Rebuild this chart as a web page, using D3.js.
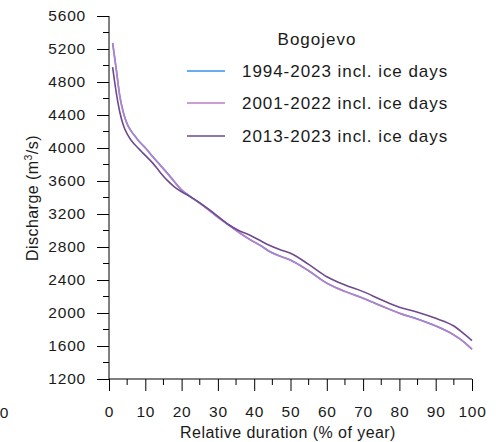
<!DOCTYPE html>
<html><head><meta charset="utf-8">
<script src="https://cdn.jsdelivr.net/npm/d3@7"></script>
<style>body{margin:0;background:#fff}svg{display:block}text{font-family:"Liberation Sans",Arial,sans-serif;fill:#1a1a1a}</style>
</head><body><svg id="c" width="498" height="442"></svg>
<script>
const durations = [1,2,3,4,5,6,7,8,9,10,12,14,16,18,20,22,25,28,30,33,36,39,42,44,47,50,55,60,65,70,75,80,85,90,95,98,100];
const s1994 = [5275,4955,4625,4424,4294,4214,4154,4098,4048,4003,3900,3800,3700,3594,3494,3425,3335,3232,3162,3066,2972,2887,2812,2752,2692,2642,2512,2362,2262,2180,2087,1998,1927,1844,1735,1642,1561];
const s2001 = [5270,4950,4620,4420,4290,4210,4150,4095,4045,4000,3895,3795,3695,3590,3490,3420,3330,3230,3160,3065,2970,2885,2810,2750,2690,2640,2510,2360,2260,2178,2085,1996,1925,1842,1733,1640,1559];
const s2013 = [4980,4670,4430,4270,4170,4100,4045,4000,3955,3910,3820,3710,3610,3530,3470,3420,3335,3240,3170,3070,2995,2940,2870,2825,2770,2724,2590,2440,2340,2259,2160,2069,2010,1936,1842,1740,1664];
const seriesNames = ["1994-2023 incl. ice days","2001-2022 incl. ice days","2013-2023 incl. ice days"];
const seriesColors = ["#3a8ff0","#bb7fc6","#6e4a8e"];
const yTicks = [1200,1600,2000,2400,2800,3200,3600,4000,4400,4800,5200,5600];
const xTicks = [0,10,20,30,40,50,60,70,80,90,100];

const svg = d3.select("#c");
const x = d3.scaleLinear().domain([0,100]).range([109,472]);
const y = d3.scaleLinear().domain([1200,5600]).range([379,16]);

// axes
const yAxis = d3.axisLeft(y).tickValues(yTicks).tickSize(12).tickPadding(11).tickFormat(d3.format("d"));
const gy = svg.append("g").attr("transform","translate(109,0)").call(yAxis);
gy.selectAll("path.domain").attr("d","M0,379V16").attr("stroke","#000");
gy.selectAll(".tick line").attr("stroke","#000");
gy.selectAll("text").style("font-size","15.5px").style("letter-spacing","0.8px").attr("fill","#1a1a1a");
const yMinor = d3.range(1400,5600,400);
gy.selectAll(".minor").data(yMinor).enter().append("line")
  .attr("x1",-6).attr("x2",0).attr("y1",d=>y(d)).attr("y2",d=>y(d)).attr("stroke","#000");

const xAxis = d3.axisBottom(x).tickValues(xTicks).tickSize(12).tickPadding(15).tickFormat(d3.format("d"));
const gx = svg.append("g").attr("transform","translate(0,379)").call(xAxis);
gx.selectAll("path.domain").attr("d","M109,0H472").attr("stroke","#000");
gx.selectAll(".tick line").attr("stroke","#000");
gx.selectAll("text").style("font-size","15.5px").style("letter-spacing","0.8px").attr("fill","#1a1a1a");
const xMinor = d3.range(5,100,10);
gx.selectAll(".minor").data(xMinor).enter().append("line")
  .attr("x1",d=>x(d)).attr("x2",d=>x(d)).attr("y1",0).attr("y2",6).attr("stroke","#000");

// stray clipped label at left edge
svg.append("text").attr("x",4).attr("y",418).attr("text-anchor","middle").style("font-size","15.5px").text("0");

// axis titles
svg.append("text").attr("transform","translate(38,198) rotate(-90)").attr("text-anchor","middle")
  .style("font-size","16px").style("letter-spacing","0.45px")
  .html('Discharge (m<tspan dy="-6" style="font-size:10.5px">3</tspan><tspan dy="6">/s)</tspan>');
svg.append("text").attr("x",288).attr("y",438).attr("text-anchor","middle")
  .style("font-size","16px").style("letter-spacing","0.45px").text("Relative duration (% of year)");

// lines
const allSeries = [s1994,s2001,s2013];
const line = d3.line().x((d,i)=>x(durations[i])).y(d=>y(d)).curve(d3.curveMonotoneX);
allSeries.forEach((s,k)=>{
  svg.append("path").datum(s).attr("d",line).attr("fill","none")
    .attr("stroke",seriesColors[k]).attr("stroke-width",1.6);
});

// legend
svg.append("text").attr("x",317).attr("y",45).attr("text-anchor","middle")
  .style("font-size","17px").style("letter-spacing","1px").text("Bogojevo");
const legY = [71,103,136];
seriesNames.forEach((n,k)=>{
  svg.append("line").attr("x1",187).attr("x2",225).attr("y1",legY[k]).attr("y2",legY[k])
    .attr("stroke",seriesColors[k]).attr("stroke-width",1.6);
  svg.append("text").attr("x",242).attr("y",legY[k]+6)
    .style("font-size","17px").style("letter-spacing","0.95px").text(n);
});
</script></body></html>
